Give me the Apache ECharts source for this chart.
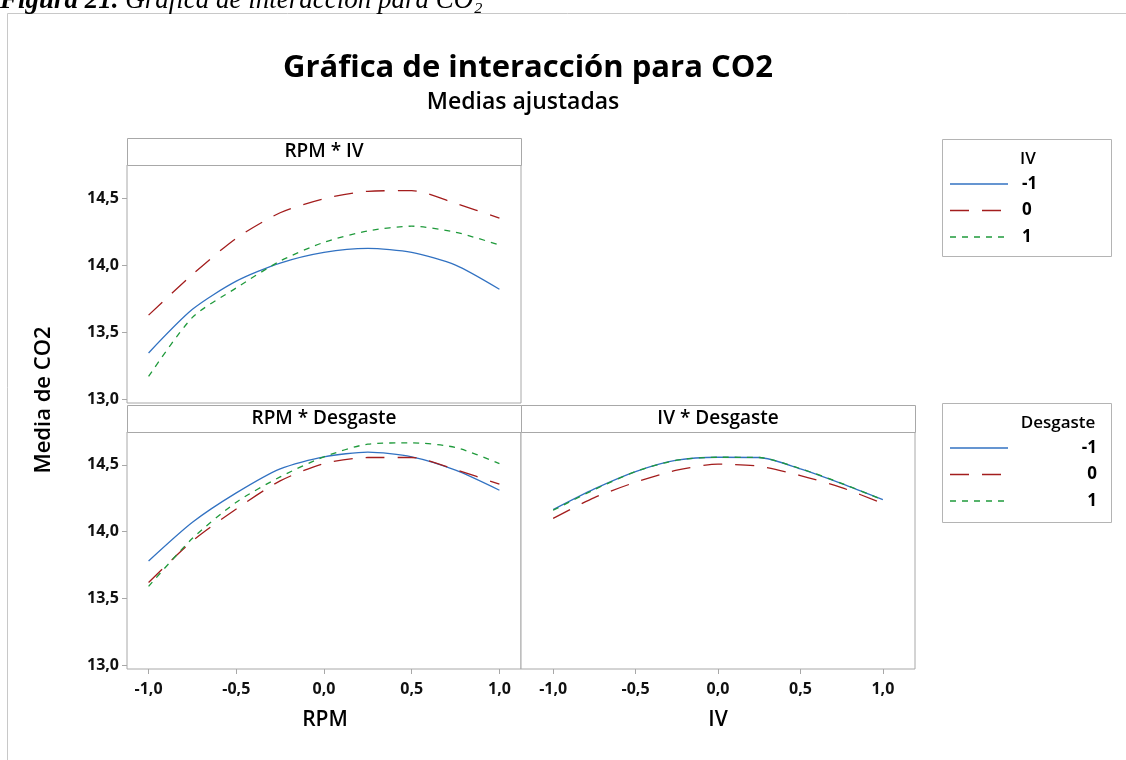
<!DOCTYPE html>
<html>
<head>
<meta charset="utf-8">
<title>Gráfica de interacción para CO2</title>
<script src="https://cdn.jsdelivr.net/npm/echarts@6/dist/echarts.min.js"></script>
<style>
  html, body { margin: 0; padding: 0; background: #fff; }
  #chart { width: 1126px; height: 760px; }
</style>
</head>
<body>
<div id="chart"></div>
<script>
// coded factor positions where the fitted means were read
const xs = [-1, -0.75, -0.5, -0.25, 0, 0.25, 0.5, 0.75, 1];
const levels = ['-1', '0', '1'];
const yTicks = [13.0, 13.5, 14.0, 14.5];
const xTicks = [-1.0, -0.5, 0.0, 0.5, 1.0];

// RPM * IV, one line per IV level
const rpmIvLow  = [13.345, 13.67, 13.88, 14.015, 14.095, 14.125, 14.095, 14.00, 13.82];
const rpmIvMid  = [13.627, 13.93, 14.20, 14.39, 14.495, 14.55, 14.555, 14.46, 14.35];
const rpmIvHigh = [13.17, 13.61, 13.83, 14.03, 14.17, 14.255, 14.29, 14.245, 14.15];

// RPM * Desgaste, one line per Desgaste level
const rpmDesLow  = [13.78, 14.07, 14.29, 14.47, 14.56, 14.595, 14.56, 14.46, 14.31];
const rpmDesMid  = [13.62, 13.93, 14.17, 14.38, 14.51, 14.555, 14.555, 14.465, 14.355];
const rpmDesHigh = [13.59, 13.95, 14.22, 14.41, 14.56, 14.655, 14.665, 14.63, 14.51];

// IV * Desgaste, one line per Desgaste level
const ivDesLow  = [14.165, 14.32, 14.45, 14.535, 14.557, 14.555, 14.47, 14.36, 14.24];
const ivDesMid  = [14.10, 14.255, 14.37, 14.46, 14.505, 14.49, 14.42, 14.33, 14.21];
const ivDesHigh = [14.16, 14.315, 14.45, 14.535, 14.557, 14.555, 14.472, 14.362, 14.238];

const colors = ['#3272c2', '#a31d1d', '#1f9a3b'];
const dashes = ['solid', [19, 13], [6, 6]];

const font = "'Open Sans', 'Noto Sans', sans-serif";
const fmt = v => v.toFixed(1).replace('.', ',');

// panel boxes (plot area) and header strips
const panels = [
  { title: 'RPM * IV',       left: 127, top: 165, width: 394, height: 238, xr: 1.123, yLabels: true, xLabels: false },
  { title: 'RPM * Desgaste', left: 127, top: 432, width: 394, height: 237, xr: 1.123, yLabels: true, xLabels: true },
  { title: 'IV * Desgaste',  left: 521, top: 432, width: 394, height: 237, xr: 1.195, yLabels: false, xLabels: true }
];
const stripH = 27;

const panelData = [
  [rpmIvLow, rpmIvMid, rpmIvHigh],
  [rpmDesLow, rpmDesMid, rpmDesHigh],
  [ivDesLow, ivDesMid, ivDesHigh]
];

const grids = panels.map(p => ({
  left: p.left, top: p.top, width: p.width, height: p.height,
  show: true, borderColor: '#a8a8a8', borderWidth: 1, backgroundColor: '#fff',
  outerBoundsMode: 'none'
}));

const xAxes = panels.map((p, i) => ({
  type: 'value', gridIndex: i, min: -p.xr, max: p.xr, position: 'bottom',
  axisLine: { show: false, onZero: false },
  splitLine: { show: false },
  axisTick: { show: p.xLabels, customValues: xTicks, length: 5, lineStyle: { color: '#a8a8a8' } },
  axisLabel: {
    show: p.xLabels, customValues: xTicks, formatter: fmt, margin: 12,
    color: '#111', fontFamily: font, fontSize: 16, fontWeight: 'bold'
  }
}));

const yAxes = panels.map((p, i) => ({
  type: 'value', gridIndex: i, min: 12.972, max: 14.746, position: 'left',
  axisLine: { show: false, onZero: false },
  splitLine: { show: false },
  axisTick: { show: p.yLabels, customValues: yTicks, length: 5, lineStyle: { color: '#a8a8a8' } },
  axisLabel: {
    show: p.yLabels, customValues: yTicks, formatter: fmt, margin: 8,
    color: '#111', fontFamily: font, fontSize: 16, fontWeight: 'bold'
  }
}));

const series = [];
panelData.forEach((lines, pi) => {
  lines.forEach((vals, li) => {
    series.push({
      name: levels[li], type: 'line', xAxisIndex: pi, yAxisIndex: pi,
      data: xs.map((x, k) => [x, vals[k]]),
      showSymbol: false, smooth: 0.25, silent: true,
      lineStyle: { color: colors[li], width: 1.3, type: dashes[li] },
      itemStyle: { color: colors[li] }
    });
  });
});

const graphic = [];
// figure frame and caption (caption is partly cut off by the page top)
graphic.push({ type: 'rect', shape: { x: 7.5, y: 13.5, width: 1200, height: 800 }, style: { fill: 'none', stroke: '#c8c8c8', lineWidth: 1 }, silent: true });
graphic.push({
  type: 'text', x: 0, y: 1,
  style: {
    text: '{b|Figura 21.} {i|Gráfica de interacción para CO₂}',
    verticalAlign: 'middle', fill: '#000',
    font: "italic 27px 'Liberation Serif', serif",
    rich: {
      b: { fontFamily: "'Liberation Serif', serif", fontSize: 27, fontStyle: 'italic', fontWeight: 'bold' },
      i: { fontFamily: "'Liberation Serif', serif", fontSize: 27, fontStyle: 'italic' }
    }
  }
});

// titles
graphic.push({ type: 'text', x: 528, y: 68, style: { text: 'Gráfica de interacción para CO2', align: 'center', verticalAlign: 'middle', font: `bold 31px ${font}`, fill: '#000' } });
graphic.push({ type: 'text', x: 523, y: 102, style: { text: 'Medias ajustadas', align: 'center', verticalAlign: 'middle', font: `600 23px ${font}`, fill: '#000' } });

// axis titles
graphic.push({ type: 'text', x: 44, y: 400, rotation: Math.PI / 2, style: { text: 'Media de CO2', align: 'center', verticalAlign: 'middle', font: `600 22px ${font}`, fill: '#000' } });
graphic.push({ type: 'text', x: 325, y: 720, style: { text: 'RPM', align: 'center', verticalAlign: 'middle', font: `600 21px ${font}`, fill: '#000' } });
graphic.push({ type: 'text', x: 718, y: 720, style: { text: 'IV', align: 'center', verticalAlign: 'middle', font: `600 21px ${font}`, fill: '#000' } });

// panel header strips
panels.forEach(p => {
  graphic.push({ type: 'rect', shape: { x: p.left + 0.5, y: p.top - stripH + 0.5, width: p.width, height: stripH }, style: { fill: '#fff', stroke: '#a8a8a8', lineWidth: 1 }, silent: true });
  graphic.push({ type: 'text', x: p.left + p.width / 2, y: p.top - stripH / 2, style: { text: p.title, align: 'center', verticalAlign: 'middle', font: `600 19px ${font}`, fill: '#000' } });
});

// legends
const legends = [
  { title: 'IV', top: 139, height: 117, titleX: 1028, labelX: 1022, align: 'left' },
  { title: 'Desgaste', top: 403, height: 119, titleX: 1058, labelX: 1097, align: 'right' }
];
legends.forEach(lg => {
  graphic.push({ type: 'rect', shape: { x: 942.5, y: lg.top + 0.5, width: 169, height: lg.height }, style: { fill: '#fff', stroke: '#b4b4b4', lineWidth: 1 }, silent: true });
  graphic.push({ type: 'text', x: lg.titleX, y: lg.top + 20, style: { text: lg.title, align: 'center', verticalAlign: 'middle', font: `600 17px ${font}`, fill: '#000' } });
  levels.forEach((lv, i) => {
    const y = lg.top + 45 + i * 26.5;
    graphic.push({ type: 'line', shape: { x1: 950, y1: y, x2: 1008, y2: y }, style: { stroke: colors[i], lineWidth: 1.3, lineDash: dashes[i] === 'solid' ? null : dashes[i] }, silent: true });
    graphic.push({ type: 'text', x: lg.labelX, y: y, style: { text: lv, align: lg.align, verticalAlign: 'middle', font: `bold 17px ${font}`, fill: '#000' } });
  });
});

const chart = echarts.init(document.getElementById('chart'));
chart.setOption({
  animation: false,
  backgroundColor: '#fff',
  grid: grids,
  xAxis: xAxes,
  yAxis: yAxes,
  series: series,
  graphic: graphic
});
</script>
</body>
</html>
